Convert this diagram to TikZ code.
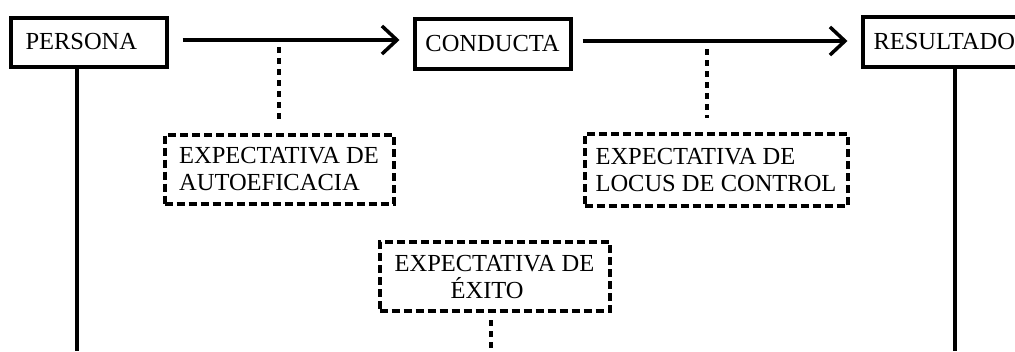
\documentclass[tikz,border=0pt]{standalone}
\usepackage{fontspec}
\setmainfont{Liberation Serif}
\usetikzlibrary{arrows.meta}
\tikzset{
  solidbox/.style={draw, line width=4pt, inner ysep=0pt, font=\fontsize{24.5}{27}\selectfont},
  dashbox/.style={draw, line width=4pt, dash pattern=on 8pt off 4pt, inner xsep=6pt, inner ysep=0pt, align=left, font=\fontsize{24.5}{27}\selectfont},
  arr/.style={line width=3.5pt, -{Straight Barb[length=15pt,width=28pt]}},
  dotline/.style={line width=4pt, dash pattern=on 6pt off 5pt},
  solidline/.style={line width=4pt}
}
\begin{document}
\begin{tikzpicture}[x=1pt,y=-1pt]
\clip (0,0) rectangle (1015,351);
\node[solidbox, minimum height=49pt, text width=126pt, inner xsep=15pt, align=left] (persona) at (88.5,42) {PERSONA};
\node[solidbox, minimum width=156pt, minimum height=50pt] (conducta) at (492.5,43.5) {CONDUCTA};
\node[solidbox, minimum height=50pt, text width=150pt, inner xsep=11pt, align=left, anchor=west] (resultado) at (860.5,41.5) {RESULTADO};
\node[dashbox, minimum width=229pt, minimum height=69pt] (autoef) at (279,169) {EXPECTATIVA DE\\AUTOEFICACIA};
\node[dashbox, minimum width=263pt, minimum height=72pt] (locus) at (716,170) {EXPECTATIVA DE\\LOCUS DE CONTROL};
\node[dashbox, minimum width=230pt, minimum height=69pt] (exito) at (494.5,276.7) {EXPECTATIVA DE\\\hspace*{56pt}ÉXITO};
\coordinate (a1) at (279,40);
\coordinate (a2) at (707,41);
\coordinate (pb) at (77,351);
\coordinate (rb) at (955,351);
\coordinate (eb) at (491,351);
\draw[arr, shorten <=14pt, shorten >=13pt] (persona.east |- a1) -- (conducta.west |- a1);
\draw[arr, shorten <=10pt, shorten >=13pt] (conducta.east |- a2) -- (resultado.west |- a2);
\draw[dotline, shorten <=7pt, shorten >=13pt] (a1) -- (autoef.north -| a1);
\draw[dotline, shorten <=8pt, shorten >=14pt] (a2) -- (locus.north -| a2);
\draw[dotline, shorten <=7pt] (exito.south -| eb) -- (eb);
\draw[solidline] (persona.south -| pb) -- (pb);
\draw[solidline] (resultado.south -| rb) -- (rb);
\end{tikzpicture}
\end{document}
